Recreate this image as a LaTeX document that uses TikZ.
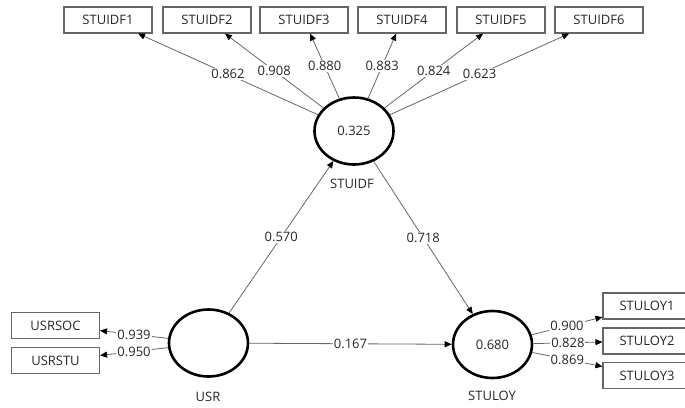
\documentclass[tikz,border=0pt]{standalone}
\usepackage{fontspec}
\setmainfont{Open Sans}
\usetikzlibrary{arrows.meta,shapes.geometric}
\begin{document}
\begin{tikzpicture}[x=1pt,y=-1pt,
  txt/.style={font=\fontsize{13}{15}\selectfont, text=black!85},
  ind/.style={txt, draw=black!60, line width=1.1pt, minimum width=88pt, minimum height=26pt, inner sep=0pt},
  lat/.style={txt, ellipse, draw=black, line width=2.6pt, minimum width=79pt, minimum height=67pt, inner sep=0pt},
  con/.style={draw=black!60, line width=0.8pt, -{Triangle[length=7pt,width=6pt,color=black]}},
  w/.style={txt, fill=white, inner sep=1pt, midway}
]
\useasboundingbox (0,0) rectangle (685,407);
% latent variables
\node[lat] (stuidf) at (354,131) {0.325};
\node[lat] (usr) at (208.5,343) {};
\node[lat] (stuloy) at (492.5,344.5) {0.680};
\node[txt] (stuidfn) at (352,184) {STUIDF};
\node[txt] (usrn) at (208,397) {USR};
\node[txt] (stuloyn) at (492,396) {STULOY};
% indicators
\node[ind] (i1) at (108,20) {STUIDF1};
\node[ind] (i2) at (207,20) {STUIDF2};
\node[ind] (i3) at (304,20) {STUIDF3};
\node[ind] (i4) at (402,20) {STUIDF4};
\node[ind] (i5) at (501,20) {STUIDF5};
\node[ind] (i6) at (599,20) {STUIDF6};
\node[ind] (u1) at (55.5,325.5) {USRSOC};
\node[ind] (u2) at (55.5,360.5) {USRSTU};
\node[ind] (l1) at (647,306) {STULOY1};
\node[ind] (l2) at (647,341) {STULOY2};
\node[ind] (l3) at (647,375.5) {STULOY3};
% outer loadings
\draw[con] (stuidf) -- node[w] {0.862} (i1);
\draw[con] (stuidf) -- node[w] {0.908} (i2);
\draw[con] (stuidf) -- node[w] {0.880} (i3);
\draw[con] (stuidf) -- node[w] {0.883} (i4);
\draw[con] (stuidf) -- node[w] {0.824} (i5);
\draw[con] (stuidf) -- node[w] {0.623} (i6);
\draw[con] (usr) -- node[w] {0.939} (u1);
\draw[con] (usr) -- node[w] {0.950} (u2);
\draw[con] (stuloy) -- node[w] {0.900} (l1);
\draw[con] (stuloy) -- node[w] {0.828} (l2);
\draw[con] (stuloy) -- node[w] {0.869} (l3);
% path coefficients
\draw[con] (usr) -- node[w] {0.570} (stuidf);
\draw[con] (stuidf) -- node[w] {0.718} (stuloy);
\draw[con] (usr) -- node[w] {0.167} (stuloy);
\end{tikzpicture}
\end{document}
